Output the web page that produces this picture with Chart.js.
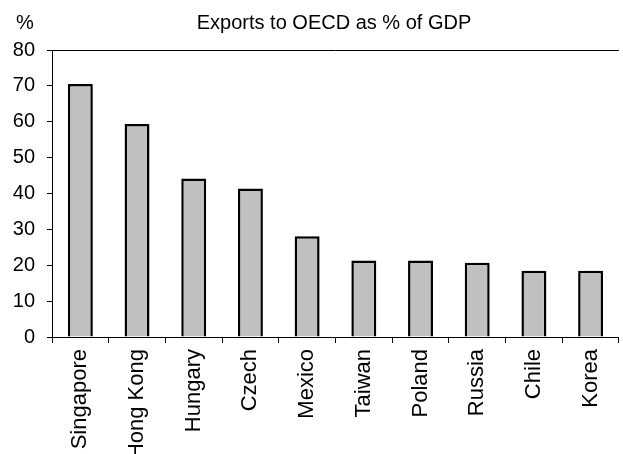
<!DOCTYPE html>
<html>
<head>
<meta charset="utf-8">
<script src="https://cdn.jsdelivr.net/npm/chart.js@4/dist/chart.umd.min.js"></script>
<style>
  body { margin: 0; background: #fff; }
  canvas { display: block; }
</style>
</head>
<body>
<canvas id="chart" width="623" height="454"></canvas>
<script>
const countries = ['Singapore', 'Hong Kong', 'Hungary', 'Czech', 'Mexico', 'Taiwan', 'Poland', 'Russia', 'Chile', 'Korea'];
const exportsPct = [70.5, 59.4, 44.2, 41.4, 28.1, 21.3, 21.3, 20.7, 18.5, 18.5];
const yTicks = [0, 10, 20, 30, 40, 50, 60, 70, 80];

const titleText = 'Exports to OECD as % of GDP';
const unitText = '%';
const fontFamily = '"Liberation Sans", Arial, sans-serif';

// title, unit label and the top frame line
const extras = {
  id: 'extras',
  afterDraw(chart) {
    const ctx = chart.ctx;
    const area = chart.chartArea;
    ctx.save();
    ctx.fillStyle = '#000';
    ctx.font = '20px ' + fontFamily;
    ctx.textBaseline = 'alphabetic';
    ctx.textAlign = 'center';
    ctx.fillText(titleText, 334, 29);
    ctx.textAlign = 'left';
    ctx.fillText(unitText, 16, 29);
    ctx.strokeStyle = '#000';
    ctx.lineWidth = 1;
    ctx.beginPath();
    ctx.moveTo(area.left, area.top + 0.5);
    ctx.lineTo(area.right, area.top + 0.5);
    ctx.stroke();
    ctx.restore();
  }
};

new Chart(document.getElementById('chart').getContext('2d'), {
  type: 'bar',
  data: {
    labels: countries,
    datasets: [{
      data: exportsPct,
      backgroundColor: '#c0c0c0',
      borderColor: '#000',
      borderWidth: 2.5,
      barPercentage: 0.44,
      categoryPercentage: 1
    }]
  },
  options: {
    responsive: false,
    animation: false,
    layout: { padding: { top: 50, right: 0, left: 0, bottom: 0 } },
    plugins: {
      legend: { display: false },
      title: { display: false },
      tooltip: { enabled: false }
    },
    scales: {
      x: {
        offset: true,
        afterFit: scale => { scale.height = 117; },
        grid: {
          offset: true,
          drawOnChartArea: false,
          tickLength: 6,
          color: '#000'
        },
        border: { color: '#000', width: 1 },
        ticks: {
          maxRotation: 90,
          minRotation: 90,
          padding: 6,
          color: '#000',
          font: { family: fontFamily, size: 22 }
        }
      },
      y: {
        min: 0,
        max: 80,
        afterFit: scale => { scale.width = 52; },
        afterBuildTicks: scale => { scale.ticks = yTicks.map(v => ({ value: v })); },
        grid: {
          drawOnChartArea: false,
          tickLength: 5,
          color: '#000'
        },
        border: { color: '#000', width: 1 },
        ticks: {
          padding: 12,
          color: '#000',
          font: { family: fontFamily, size: 20 }
        }
      }
    }
  },
  plugins: [extras]
});
</script>
</body>
</html>
